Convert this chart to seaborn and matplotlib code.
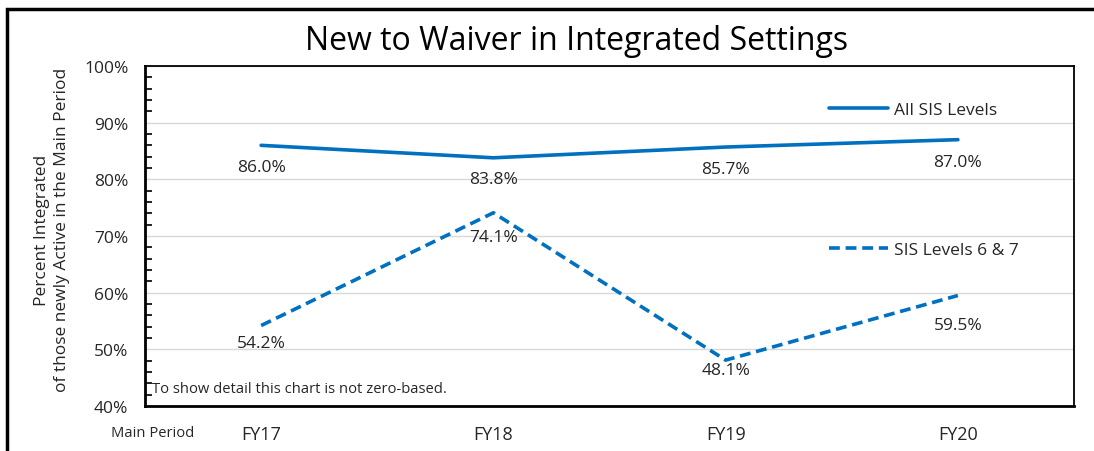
import matplotlib
matplotlib.use('Agg')
import matplotlib.pyplot as plt
import matplotlib.patches as patches
from matplotlib.lines import Line2D
from matplotlib.ticker import MultipleLocator, FuncFormatter
import pandas as pd
import seaborn as sns

#chart data
periods = ['FY17', 'FY18', 'FY19', 'FY20']
all_levels = [86.0, 83.8, 85.7, 87.0]
levels_6_7 = [54.2, 74.1, 48.1, 59.5]
series_names = ['All SIS Levels', 'SIS Levels 6 & 7']

#label offsets below each point (pixels)
all_dy = [14, 13, 14, 14]
lv_dy = [9, 16, 2, 22]

blue = '#0070C0'
txt = '#262626'

sns.set_theme(style='white')
plt.rcParams['font.family'] = ['Open Sans', 'DejaVu Sans']

df = pd.DataFrame({
    'period': periods * 2,
    'pct': all_levels + levels_6_7,
    'series': [series_names[0]] * 4 + [series_names[1]] * 4,
})

fig = plt.figure(figsize=(10.94, 4.52), dpi=100)
ax = fig.add_axes([145 / 1094, 1 - 407 / 452, (1074 - 145) / 1094, (407 - 67) / 452])

sns.lineplot(data=df, x='period', y='pct', hue='series', style='series',
             palette=[blue, blue], dashes={series_names[0]: '', series_names[1]: (3, 1.6)},
             linewidth=2.6, legend=False, ax=ax, sort=False)

ax.set_xlim(-0.5, 3.5)
ax.set_ylim(40, 100)
ax.yaxis.set_major_locator(MultipleLocator(10))
ax.yaxis.set_minor_locator(MultipleLocator(2))
ax.yaxis.set_major_formatter(FuncFormatter(lambda v, p: f'{v:.0f}%'))
ax.grid(axis='y', which='major', color='#d9d9d9', linewidth=1)
ax.tick_params(axis='y', which='major', direction='inout', length=8, width=1.2, color='black',
               labelsize=12.5, pad=8, labelcolor=txt)
ax.tick_params(axis='y', which='minor', direction='in', length=5, width=1.2, color='black', left=True)
ax.tick_params(axis='x', length=0, labelsize=13, pad=14, labelcolor=txt)
for s in ax.spines.values():
    s.set_color('black')
    s.set_linewidth(1.3)
ax.spines['left'].set_linewidth(2)
ax.spines['bottom'].set_linewidth(2)
ax.set_xlabel('')
ax.set_ylabel('Percent Integrated\nof those newly Active in the Main Period', fontsize=12.5,
              linespacing=1.3, color=txt)
ax.yaxis.set_label_coords(-0.081, 0.52)

#data labels
for i, (a, b) in enumerate(zip(all_levels, levels_6_7)):
    ax.annotate(f'{a:.1f}%', (i, a), xytext=(0, -all_dy[i] * 0.72), textcoords='offset points',
                ha='center', va='top', fontsize=12.5, color=txt)
    ax.annotate(f'{b:.1f}%', (i, b), xytext=(0, -lv_dy[i] * 0.72), textcoords='offset points',
                ha='center', va='top', fontsize=12.5, color=txt)

#legends
h1 = Line2D([], [], color=blue, linewidth=2.6)
h2 = Line2D([], [], color=blue, linewidth=2.6, linestyle=(0, (3, 1.6)))
leg_kw = dict(loc='center left', frameon=False, fontsize=12.5, handlelength=3.4,
              handletextpad=0.35, labelcolor=txt)
leg1 = ax.legend([h1], [series_names[0]], bbox_to_anchor=(0.719, 0.87), **leg_kw)
ax.add_artist(leg1)
ax.legend([h2], [series_names[1]], bbox_to_anchor=(0.719, 0.46), **leg_kw)

ax.text(0.008, 0.05, 'To show detail this chart is not zero-based.', transform=ax.transAxes,
        fontsize=10.6, va='center', ha='left', color=txt)

fig.text(111 / 1094, 1 - 434 / 452, 'Main Period', fontsize=10.6, ha='left', va='center', color=txt)
fig.text(577 / 1094, 1 - 41 / 452, 'New to Waiver in Integrated Settings', fontsize=23,
         ha='center', va='center', color='black')

#outer frame
fig.patches.append(patches.Rectangle((7 / 1094, -0.1), 1.2, 1 - 10 / 452 + 0.1,
                                     transform=fig.transFigure, fill=False,
                                     edgecolor='black', linewidth=2.5))

fig.savefig('out.png', dpi=100)
